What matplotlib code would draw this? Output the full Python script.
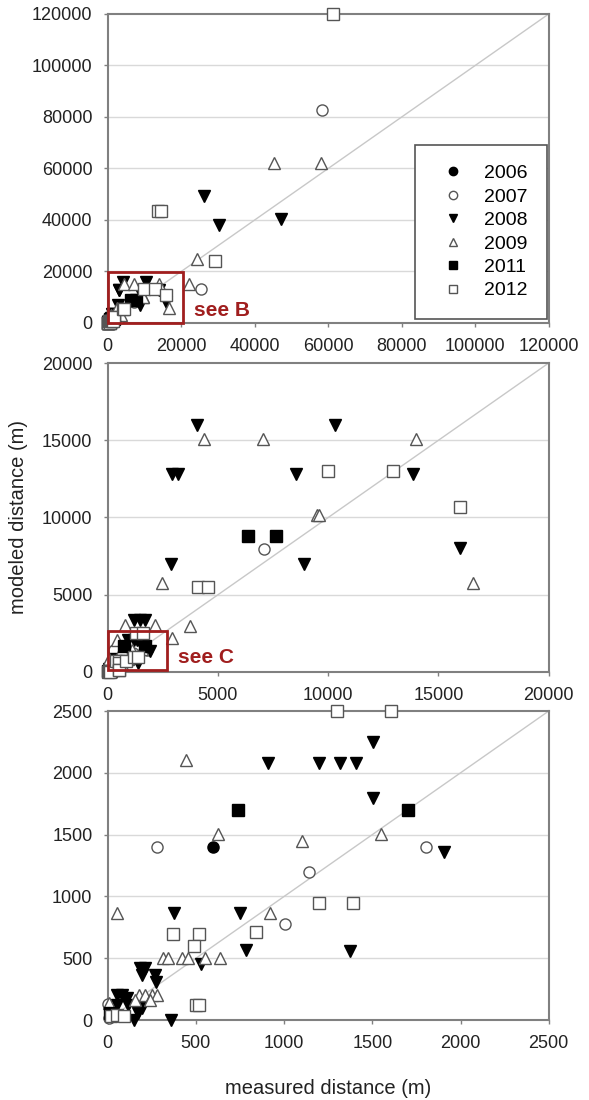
import numpy as np
import matplotlib.pyplot as plt
from matplotlib.patches import Rectangle

plt.rcParams["font.family"] = ["Liberation Sans", "DejaVu Sans"]

# measured (x) and modeled (y) distances in metres, one pair of arrays per year
x_2006 = [597]
y_2006 = [1400]

x_2007 = [0, 5, 20, 277, 1007, 1141, 1802, 7082, 25300, 58400]
y_2007 = [130, 20, 80, 1400, 780, 1200, 1400, 7980, 13300, 82600]

x_2008 = [53, 81, 108, 117, 51, 151, 359, 174, 193,
          183, 212, 193, 268, 274, 527,
          378, 751, 783, 1376,
          907, 1199, 1316, 1408, 1504, 1504, 1907,
          1200, 1450, 1700, 2850, 2935, 3191, 4044, 8532, 8908, 10324, 13823, 15956,
          26200, 30300, 47100]
y_2008 = [200, 200, 175, 120, 120, 0, 0, 55, 95,
          420, 420, 365, 365, 310, 450,
          870, 870, 565, 560,
          2080, 2080, 2080, 2080, 2250, 1795, 1360,
          3370, 3370, 3370, 6960, 12800, 12800, 16000, 12800, 6960, 16000, 12800, 8040,
          49300, 38100, 40300]

x_2009 = [5, 51, 441, 625, 1103, 1547, 922,
          312, 340, 423, 457, 551, 635,
          175, 212, 250, 278, 156, 240,
          786, 2147, 2900, 2440, 3720, 4352, 7048, 9471, 9590, 13959, 16587,
          22100, 24200, 45200, 58100]
y_2009 = [140, 865, 2100, 1505, 1450, 1505, 870,
          500, 500, 500, 500, 500, 500,
          200, 200, 200, 200, 160, 160,
          3040, 3040, 2180, 5760, 2980, 15100, 15100, 10150, 10150, 15100, 5760,
          15100, 24800, 62200, 62200]

x_2011 = [15, 740, 1700, 6348, 7645]
y_2011 = [60, 1700, 1700, 8800, 8800]

x_2012 = [20, 55, 90, 371, 520, 491, 499, 516, 843, 1199, 1391, 1301, 1604,
          4096, 4556, 9983, 12935, 15956,
          13800, 14600, 29300, 61200]
y_2012 = [30, 40, 30, 700, 700, 600, 120, 120, 715, 950, 950, 2500, 2500,
          5480, 5480, 13000, 13000, 10700,
          43600, 43600, 23900, 120000]

years = ["2006", "2007", "2008", "2009", "2011", "2012"]
xs = [x_2006, x_2007, x_2008, x_2009, x_2011, x_2012]
ys = [y_2006, y_2007, y_2008, y_2009, y_2011, y_2012]

styles = {
    "2006": dict(marker="o", mfc="black", mec="black"),
    "2007": dict(marker="o", mfc="white", mec="#555555"),
    "2008": dict(marker="v", mfc="black", mec="black"),
    "2009": dict(marker="^", mfc="white", mec="#555555"),
    "2011": dict(marker="s", mfc="black", mec="black"),
    "2012": dict(marker="s", mfc="white", mec="#555555"),
}

limits = [120000, 20000, 2500]
steps = [20000, 5000, 500]
bottoms = [0.7064, 0.3891, 0.0727]

red = "#a01e1e"
spine_col = "#808080"

fig = plt.figure(figsize=(5.89, 11), dpi=100)
axes = []

for lim, step, bottom in zip(limits, steps, bottoms):
    ax = fig.add_axes([0.1829, bottom, 0.7487, 0.2809])
    axes.append(ax)

    ticks = np.arange(0, lim + step, step)
    ax.set_xlim(0, lim)
    ax.set_ylim(0, lim)
    ax.set_xticks(ticks)
    ax.set_yticks(ticks)

    for t in ticks[1:-1]:
        ax.axhline(t, color="#d9d9d9", linewidth=1, zorder=0)
    ax.plot([0, lim], [0, lim], color="#c8c8c8", linewidth=1, zorder=1)

    # points beyond this panel's range are left out rather than clipped
    for year, x, y in zip(years, xs, ys):
        x = np.array(x)
        y = np.array(y)
        keep = (x <= lim * 1.001) & (y <= lim * 1.001)
        st = styles[year]
        ax.plot(x[keep], y[keep], linestyle="none", marker=st["marker"],
                markersize=8, markerfacecolor=st["mfc"], markeredgecolor=st["mec"],
                markeredgewidth=1.0, clip_on=False, zorder=3, label=year)

    for side in ["top", "right", "bottom", "left"]:
        ax.spines[side].set_color(spine_col)
        ax.spines[side].set_linewidth(1.5)
    ax.tick_params(direction="out", length=3, width=1, color=spine_col,
                   labelsize=13, labelcolor="#222222", pad=8)

ax1, ax2, ax3 = axes

leg = ax1.legend(loc="lower right", bbox_to_anchor=(0.995, 0.013), fontsize=14,
                 frameon=True, fancybox=False, framealpha=1, edgecolor="#555555",
                 borderpad=1.0, handlelength=2.0, handletextpad=0.55,
                 labelspacing=0.3, markerscale=0.75, borderaxespad=0)
leg.get_frame().set_linewidth(1.2)

ax1.add_patch(Rectangle((0, 0), 20600, 19800, fill=False, edgecolor=red,
                        linewidth=2, clip_on=False, zorder=4))
ax1.text(23500, 5000, "see B", color=red, fontsize=15, fontweight="bold",
         ha="left", va="center")

ax2.add_patch(Rectangle((0, 100), 2700, 2570, fill=False, edgecolor=red,
                        linewidth=2, clip_on=False, zorder=4))
ax2.text(3200, 970, "see C", color=red, fontsize=15, fontweight="bold",
         ha="left", va="center")

ax2.set_ylabel("modeled distance (m)", fontsize=14.5, color="#222222")
ax2.yaxis.set_label_coords(-0.18, 0.5)
ax3.set_xlabel("measured distance (m)", fontsize=14.5, color="#222222")
ax3.xaxis.set_label_coords(0.5, -0.19)

fig.savefig("out.png", dpi=100)
